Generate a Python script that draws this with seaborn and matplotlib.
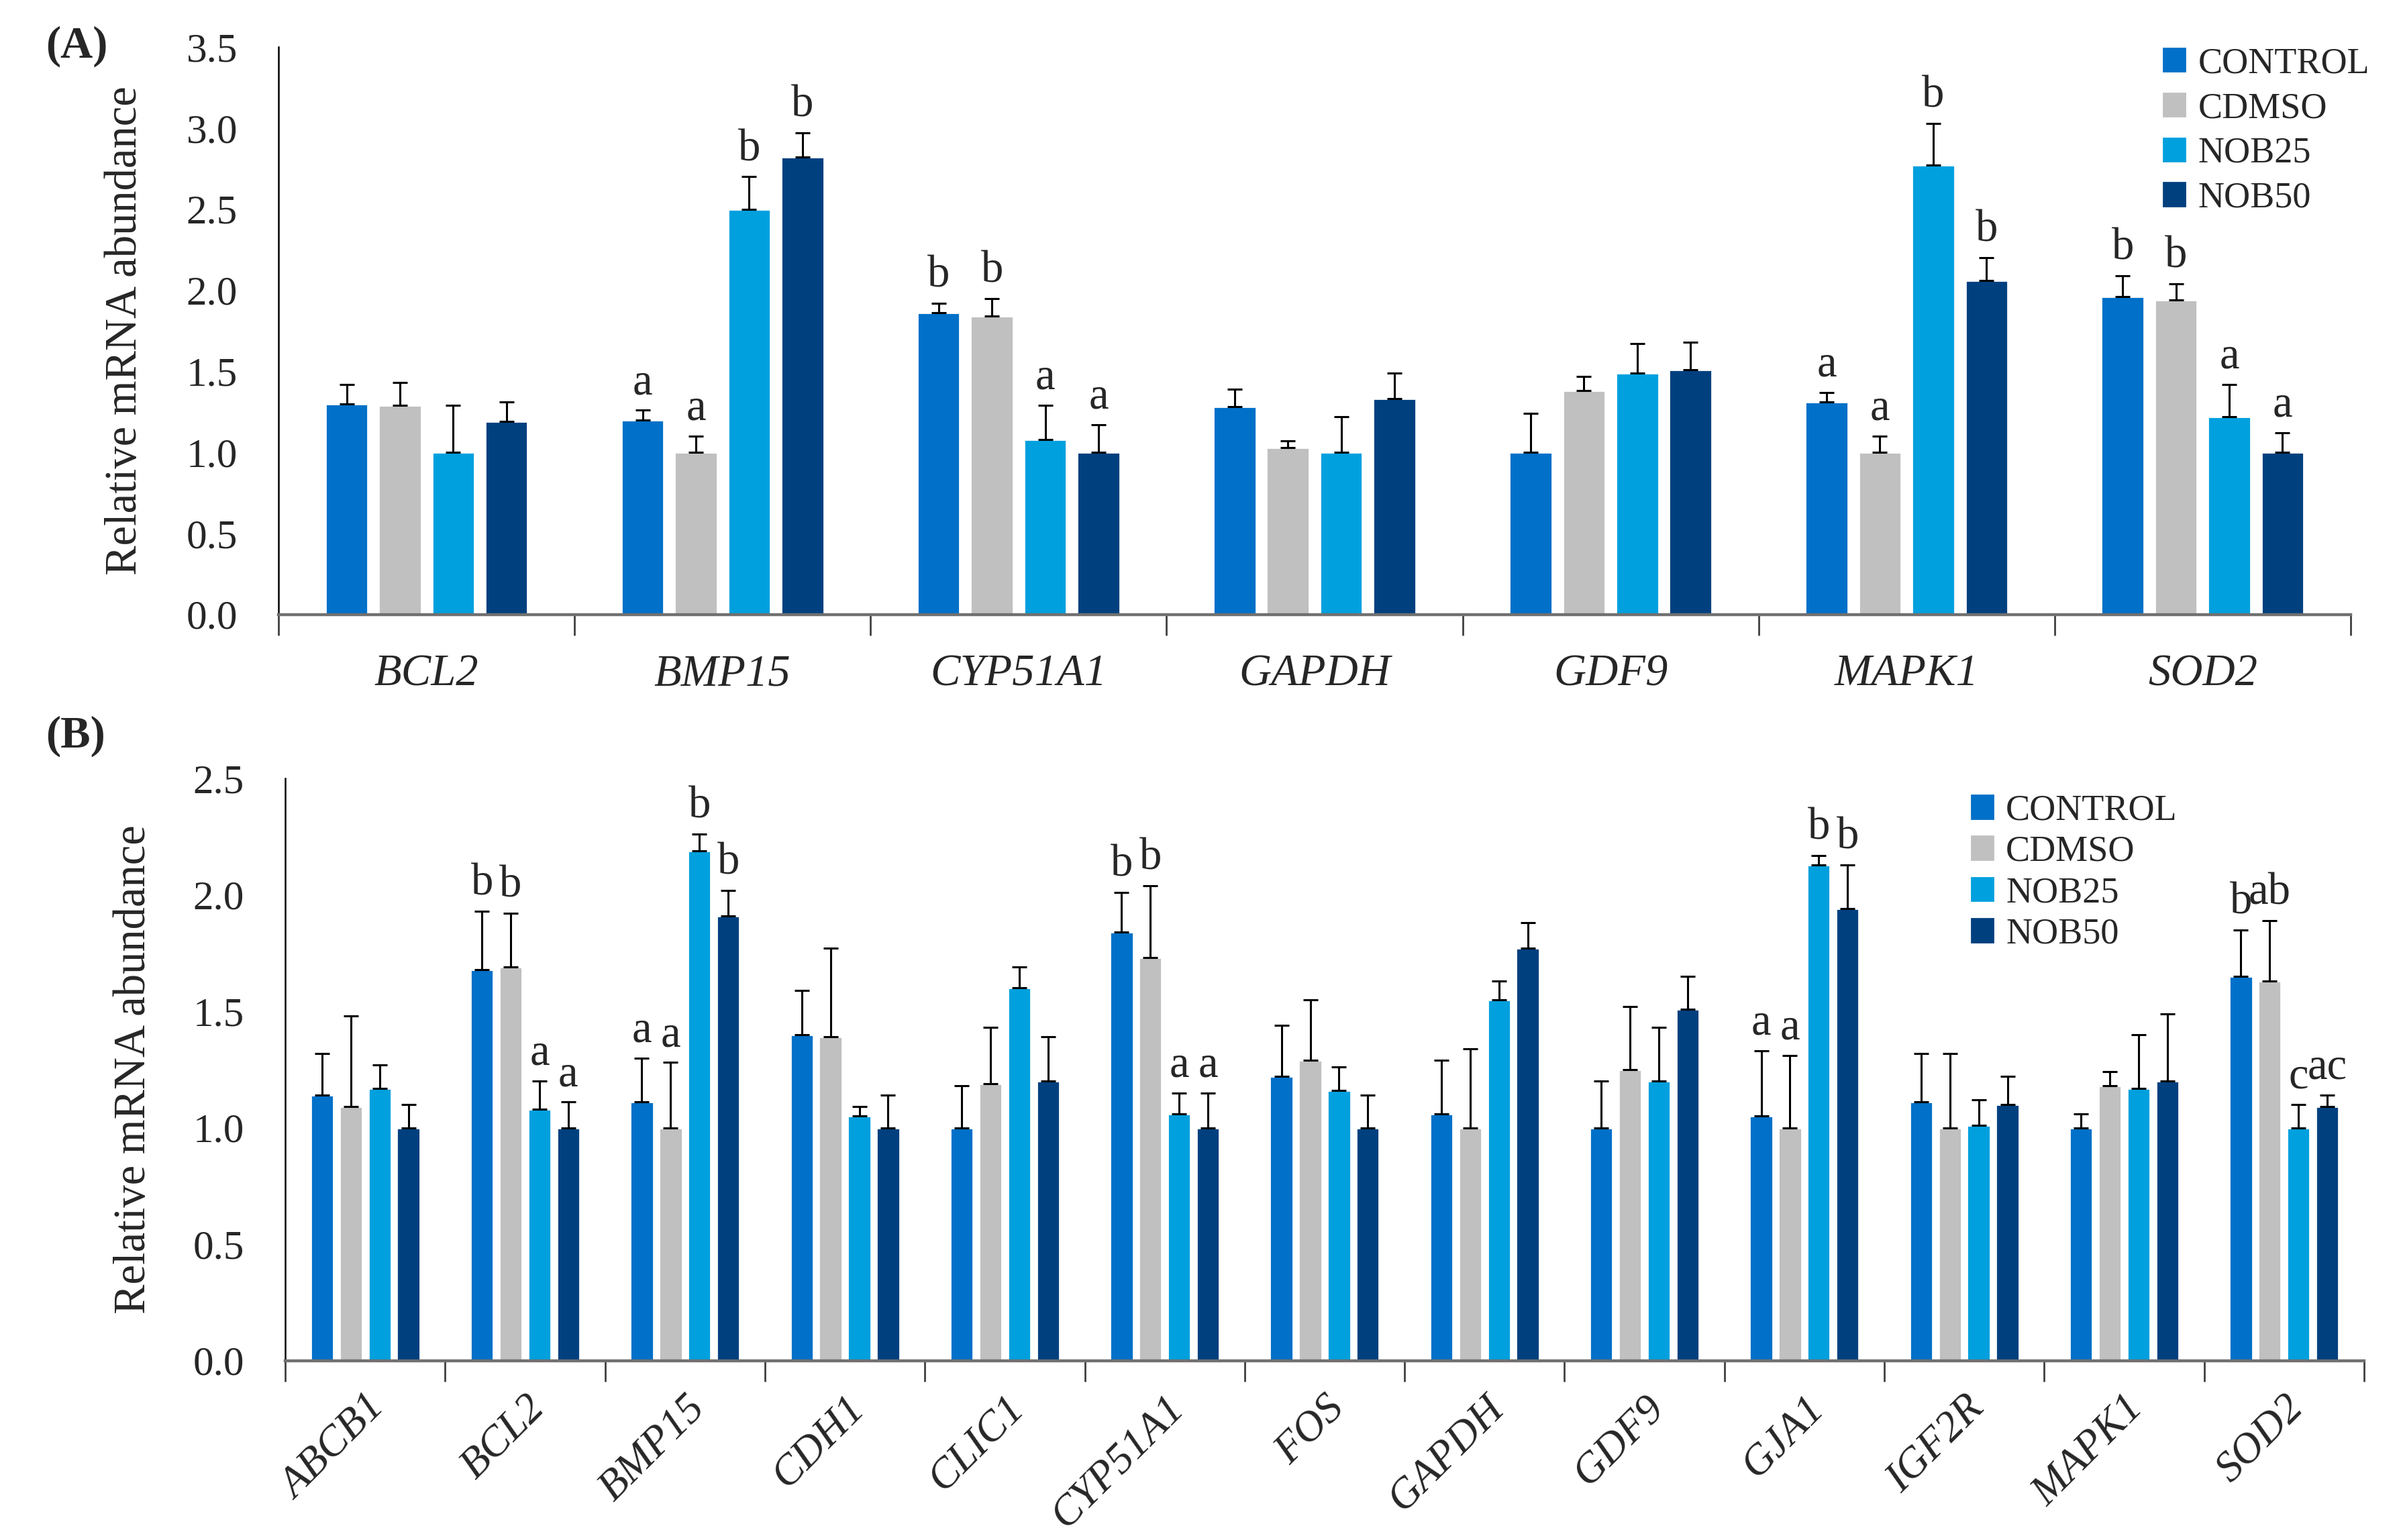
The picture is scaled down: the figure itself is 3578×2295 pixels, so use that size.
"""Relative mRNA abundance of candidate genes, panels A and B."""
import matplotlib

matplotlib.use("Agg")
import matplotlib.pyplot as plt
import numpy as np
import pandas as pd
import seaborn as sns

groups = ["CONTROL", "CDMSO", "NOB25", "NOB50"]
colors = ["#0070C8", "#C0C0C0", "#00A0DE", "#00407F"]

# panel A
genes_a = ["BCL2", "BMP15", "CYP51A1", "GAPDH", "GDF9", "MAPK1", "SOD2"]
mean_a = {
    "CONTROL": [1.30, 1.20, 1.86, 1.28, 1.00, 1.31, 1.96],
    "CDMSO":   [1.29, 1.00, 1.84, 1.03, 1.38, 1.00, 1.94],
    "NOB25":   [1.00, 2.50, 1.08, 1.00, 1.49, 2.77, 1.22],
    "NOB50":   [1.19, 2.82, 1.00, 1.33, 1.51, 2.06, 1.00],
}
err_a = {
    "CONTROL": [0.12, 0.06, 0.06, 0.11, 0.24, 0.06, 0.13],
    "CDMSO":   [0.14, 0.10, 0.11, 0.04, 0.09, 0.10, 0.10],
    "NOB25":   [0.29, 0.20, 0.21, 0.22, 0.18, 0.26, 0.20],
    "NOB50":   [0.12, 0.15, 0.17, 0.16, 0.17, 0.14, 0.12],
}
letters_a = {
    "CONTROL": ["", "a", "b", "", "", "a", "b"],
    "CDMSO":   ["", "a", "b", "", "", "a", "b"],
    "NOB25":   ["", "b", "a", "", "", "b", "a"],
    "NOB50":   ["", "b", "a", "", "", "b", "a"],
}

# panel B
genes_b = ["ABCB1", "BCL2", "BMP15", "CDH1", "CLIC1", "CYP51A1", "FOS",
           "GAPDH", "GDF9", "GJA1", "IGF2R", "MAPK1", "SOD2"]
mean_b = {
    "CONTROL": [1.14, 1.68, 1.11, 1.40, 1.00, 1.84, 1.22, 1.06, 1.00, 1.05, 1.11, 1.00, 1.65],
    "CDMSO":   [1.09, 1.69, 1.00, 1.39, 1.19, 1.73, 1.29, 1.00, 1.25, 1.00, 1.00, 1.18, 1.63],
    "NOB25":   [1.17, 1.08, 2.19, 1.05, 1.60, 1.06, 1.16, 1.55, 1.20, 2.13, 1.01, 1.17, 1.00],
    "NOB50":   [1.00, 1.00, 1.91, 1.00, 1.20, 1.00, 1.00, 1.77, 1.51, 1.94, 1.10, 1.20, 1.09],
}
err_b = {
    "CONTROL": [0.18, 0.25, 0.19, 0.19, 0.18, 0.17, 0.22, 0.23, 0.20, 0.28, 0.21, 0.06, 0.20],
    "CDMSO":   [0.39, 0.23, 0.28, 0.38, 0.24, 0.31, 0.26, 0.34, 0.27, 0.31, 0.32, 0.06, 0.26],
    "NOB25":   [0.10, 0.12, 0.07, 0.04, 0.09, 0.09, 0.10, 0.08, 0.23, 0.04, 0.11, 0.23, 0.10],
    "NOB50":   [0.10, 0.11, 0.11, 0.14, 0.19, 0.15, 0.14, 0.11, 0.14, 0.19, 0.12, 0.29, 0.05],
}
letters_b = {
    "CONTROL": ["", "b", "a", "", "", "b", "", "", "", "a", "", "", "b"],
    "CDMSO":   ["", "b", "a", "", "", "b", "", "", "", "a", "", "", "ab"],
    "NOB25":   ["", "a", "b", "", "", "a", "", "", "", "b", "", "", "c"],
    "NOB50":   ["", "a", "b", "", "", "a", "", "", "", "b", "", "", "ac"],
}


def long_table(genes, means, errs, letters):
    rows = []
    for g in groups:
        for i, gene in enumerate(genes):
            rows.append({"gene": gene, "group": g, "value": means[g][i],
                         "err": errs[g][i], "letter": letters[g][i]})
    return pd.DataFrame(rows)


sns.set_style("white")
plt.rcParams["font.family"] = ["Liberation Serif", "DejaVu Serif"]

fig = plt.figure(figsize=(17.89, 11.475), dpi=200)
ax_a = fig.add_axes([0.116, 0.601, 0.863, 0.3685])
ax_b = fig.add_axes([0.1188, 0.1165, 0.8658, 0.378])


def draw(ax, genes, means, errs, letters, ymax, rotate):
    df = long_table(genes, means, errs, letters)
    sns.barplot(data=df, x="gene", y="value", hue="group", hue_order=groups,
                order=genes, palette=colors, width=0.72, gap=0.2,
                errorbar=None, saturation=1, ax=ax)
    bars = list(ax.containers)
    for k, cont in enumerate(bars):
        sub = df[df["group"] == groups[k]].set_index("gene").loc[genes]
        xs = [p.get_x() + p.get_width() / 2 for p in cont.patches]
        hs = [p.get_height() for p in cont.patches]
        ax.errorbar(xs, hs, yerr=[np.zeros(len(xs)), sub["err"].values],
                    fmt="none", ecolor="black", elinewidth=1.1, capsize=4,
                    capthick=1.1, zorder=3)
        for x, h, e, lab in zip(xs, hs, sub["err"].values, sub["letter"].values):
            if lab:
                ax.text(x, h + e + ymax * 0.012, lab, ha="center", va="bottom",
                        fontsize=24)
    ax.set_ylim(0, ymax)
    ax.set_xlim(-0.5, len(genes) - 0.5)
    ax.set_yticks(np.arange(0, ymax + 0.01, 0.5))
    ax.set_yticklabels([f"{v:.1f}" for v in np.arange(0, ymax + 0.01, 0.5)])
    ax.set_xlabel("")
    ax.set_ylabel("Relative mRNA abundance", fontsize=24)
    ax.tick_params(axis="y", length=0, pad=22, labelsize=22)
    ax.set_xticks(np.arange(len(genes) + 1) - 0.5, minor=True)
    ax.tick_params(axis="x", which="minor", length=11, width=1.0,
                   color="#404040", direction="out", bottom=True)
    ax.tick_params(axis="x", which="major", length=0,
                   labelsize=(23 if rotate else 24),
                   pad=(15 if rotate else 21))
    for lab in ax.get_xticklabels():
        lab.set_style("italic")
        if rotate:
            lab.set_rotation(45)
            lab.set_ha("right")
            lab.set_rotation_mode("anchor")
    for s in ["top", "right"]:
        ax.spines[s].set_visible(False)
    ax.spines["left"].set_color("black")
    ax.spines["left"].set_linewidth(0.9)
    ax.spines["bottom"].set_color("#707070")
    ax.spines["bottom"].set_linewidth(1.6)
    if ax.legend_ is not None:
        ax.legend_.remove()


draw(ax_a, genes_a, mean_a, err_a, letters_a, 3.5, False)
draw(ax_b, genes_b, mean_b, err_b, letters_b, 2.5, True)
ax_a.yaxis.set_label_coords(-0.064, 0.5)
ax_b.yaxis.set_label_coords(-0.063, 0.5)

handles = [plt.Rectangle((0, 0), 1, 1, color=c) for c in colors]
fig.legend(handles, groups, loc="upper left", bbox_to_anchor=(0.895, 0.979),
           frameon=False, fontsize=19.5, handlelength=0.6, handleheight=0.6,
           handletextpad=0.35, labelspacing=0.3, borderaxespad=0)
fig.legend(handles, groups, loc="upper left", bbox_to_anchor=(0.815, 0.494),
           frameon=False, fontsize=19.5, handlelength=0.6, handleheight=0.6,
           handletextpad=0.35, labelspacing=0.2, borderaxespad=0)

fig.text(0.019, 0.97, "(A)", fontsize=24, fontweight="bold", va="center")
fig.text(0.019, 0.522, "(B)", fontsize=24, fontweight="bold", va="center")

fig.savefig("out.png", dpi=200)
